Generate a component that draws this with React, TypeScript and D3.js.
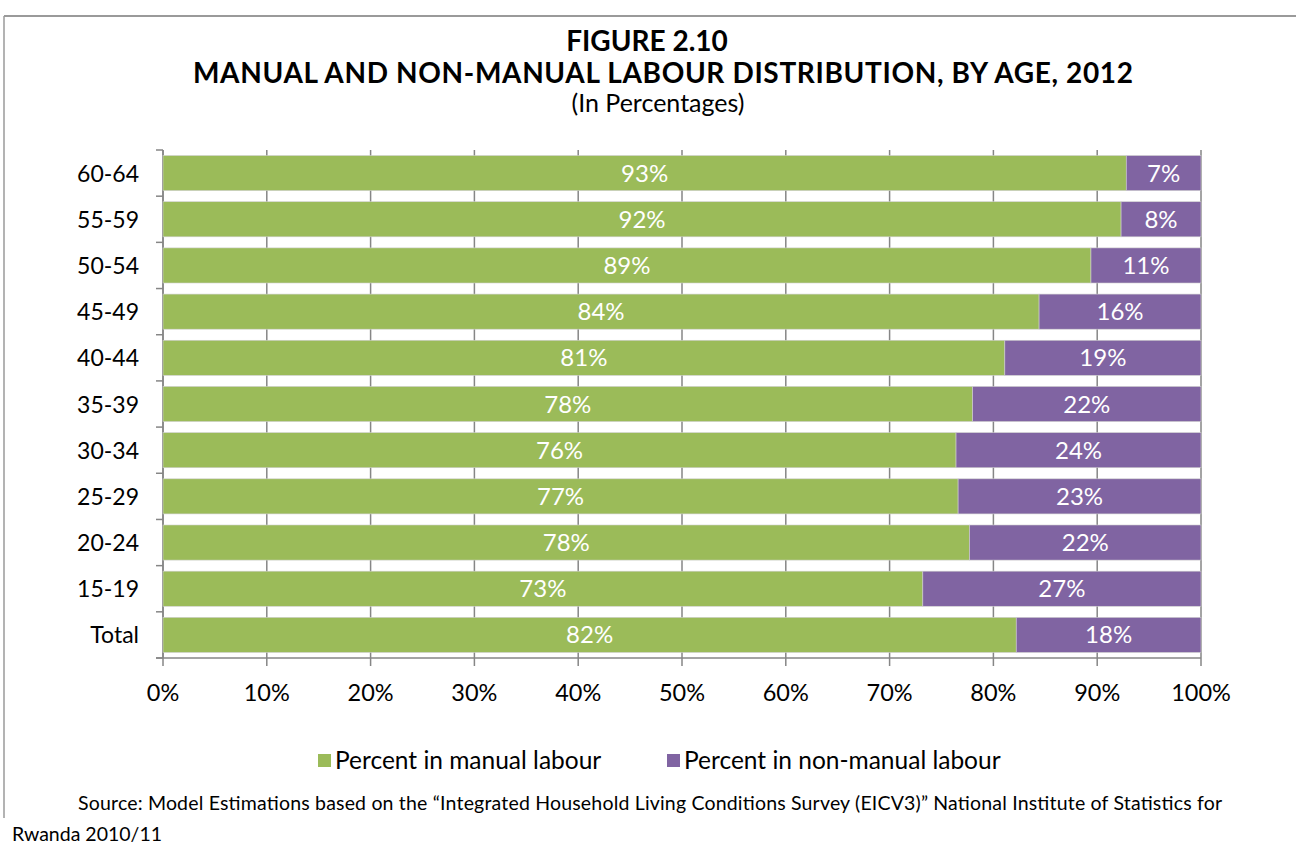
import React, { useEffect, useRef } from "react";
import * as d3 from "d3";

const categories = ["60-64", "55-59", "50-54", "45-49", "40-44", "35-39", "30-34", "25-29", "20-24", "15-19", "Total"];
const manual = [92.8, 92.3, 89.4, 84.4, 81.1, 78.0, 76.4, 76.6, 77.7, 73.2, 82.2];
const nonManual = manual.map((v) => 100 - v);
const xTicks = [0, 10, 20, 30, 40, 50, 60, 70, 80, 90, 100];
const seriesNames = ["Percent in manual labour", "Percent in non-manual labour"];
const seriesColors = ["#9BBB59", "#8064A2"];

const FONT = "Lato, 'Open Sans', sans-serif";

export default function App() {
  const ref = useRef<SVGSVGElement>(null);
  useEffect(() => {
    document.body.style.margin = "0";
    const svg = d3.select(ref.current);
    svg.selectAll("*").remove();
    const W = 1296, H = 848;
    const left = 163, right = 1201, top = 150, bottom = 658;
    const x = d3.scaleLinear().domain([0, 100]).range([left, right]);
    const y = d3.scaleBand().domain(categories).range([top, bottom]).paddingInner(0.24).paddingOuter(0.12);
    const band = (bottom - top) / categories.length;

    svg.append("rect").attr("width", W).attr("height", H).attr("fill", "#fff");
    // frame
    svg.append("line").attr("x1", 4).attr("x2", W).attr("y1", 16).attr("y2", 16).attr("stroke", "#9a9a9a").attr("stroke-width", 2);
    svg.append("line").attr("x1", 4).attr("x2", 4).attr("y1", 16).attr("y2", 818).attr("stroke", "#9a9a9a").attr("stroke-width", 1.5);

    // titles
    svg.append("text").attr("x", 647).attr("y", 51).attr("text-anchor", "middle").attr("font-family", FONT).attr("font-weight", "bold").attr("font-size", 28).text("FIGURE 2.10");
    svg.append("text").attr("x", 663).attr("y", 83).attr("text-anchor", "middle").attr("font-family", FONT).attr("font-weight", "bold").attr("font-size", 28).attr("textLength", 940).attr("lengthAdjust", "spacing").text("MANUAL AND NON-MANUAL LABOUR DISTRIBUTION, BY AGE, 2012");
    svg.append("text").attr("x", 658).attr("y", 112).attr("text-anchor", "middle").attr("font-family", FONT).attr("font-size", 25).text("(In Percentages)");

    // gridlines
    const g = svg.append("g");
    xTicks.forEach((t) => {
      g.append("line").attr("x1", x(t)).attr("x2", x(t)).attr("y1", top).attr("y2", bottom + 8).attr("stroke", "#868686").attr("stroke-width", 1.5);
      g.append("text").attr("x", x(t)).attr("y", 701).attr("text-anchor", "middle").attr("font-family", FONT).attr("font-size", 23.5).attr("fill", "#000").text(t + "%");
    });
    // left axis and ticks
    g.append("line").attr("x1", left).attr("x2", left).attr("y1", top).attr("y2", bottom).attr("stroke", "#868686").attr("stroke-width", 1.5);
    g.append("line").attr("x1", left - 7).attr("x2", right).attr("y1", bottom).attr("y2", bottom).attr("stroke", "#868686").attr("stroke-width", 1.5);
    d3.range(categories.length + 1).forEach((i) => {
      g.append("line").attr("x1", left - 7).attr("x2", left).attr("y1", top + i * band).attr("y2", top + i * band).attr("stroke", "#868686").attr("stroke-width", 1.5);
    });

    function yy(c: string) { return y(c)! + y.bandwidth() / 2; }
    // bars
    const stacks = [manual, nonManual];
    categories.forEach((c, i) => {
      let start = 0;
      stacks.forEach((s, k) => {
        const v = s[i];
        const x0 = x(start), x1 = x(start + v);
        const yt = y(c)!;
        g.append("rect").attr("x", x0).attr("y", yt).attr("width", x1 - x0).attr("height", y.bandwidth()).attr("fill", seriesColors[k]).attr("stroke", "#d0d0d0").attr("stroke-width", 0.6);
        g.append("text").attr("x", (x0 + x1) / 2).attr("y", yt + y.bandwidth() / 2 + 8.5).attr("text-anchor", "middle").attr("font-family", FONT).attr("font-size", 24).attr("fill", "#fff").text(Math.round(v) + "%");
        start += v;
      });
      g.append("text").attr("x", 139).attr("y", yy(c) + 8.5).attr("text-anchor", "end").attr("font-family", FONT).attr("font-size", 23).attr("fill", "#000").text(c);
    });

    // legend
    const legendItems = [{ x: 318, tx: 335 }, { x: 667, tx: 684 }];
    legendItems.forEach((l, k) => {
      svg.append("rect").attr("x", l.x).attr("y", 754).attr("width", 13).attr("height", 13).attr("fill", seriesColors[k]);
      svg.append("text").attr("x", l.tx).attr("y", 769).attr("font-family", FONT).attr("font-size", 24.5).attr("fill", "#000").text(seriesNames[k]);
    });

    // source
    svg.append("text").attr("x", 78).attr("y", 810).attr("font-family", FONT).attr("font-size", 19.5).attr("textLength", 1144).attr("lengthAdjust", "spacing").attr("fill", "#000").text("Source: Model Estimations based on the \u201CIntegrated Household Living Conditions Survey (EICV3)\u201D National Institute of Statistics for");
    svg.append("text").attr("x", 12).attr("y", 841).attr("font-family", FONT).attr("font-size", 19.5).attr("fill", "#000").text("Rwanda 2010/11");
  }, []);
  return <svg ref={ref} width={1296} height={848} style={{ display: "block" }} />;
}
